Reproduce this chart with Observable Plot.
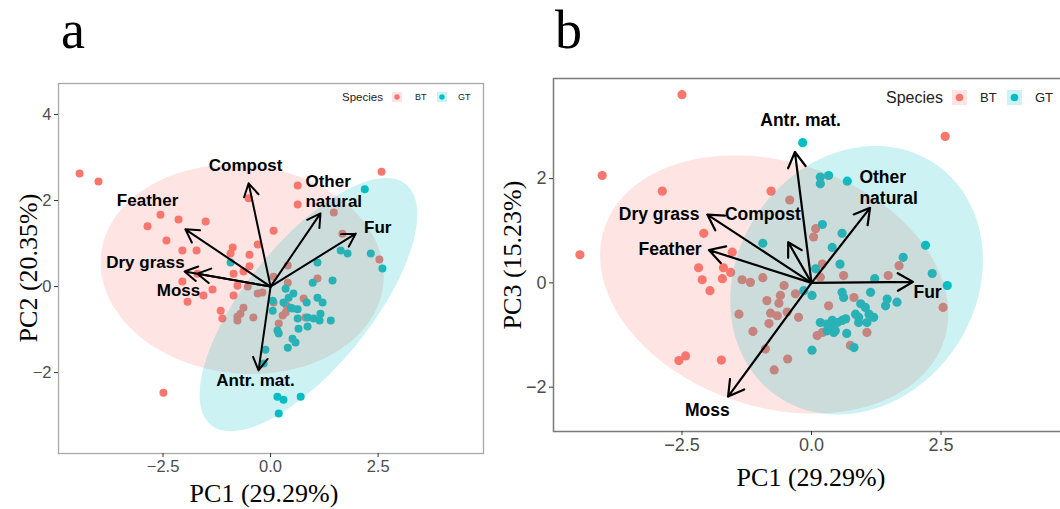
<!DOCTYPE html>
<html><head><meta charset="utf-8">
<script src="https://cdn.jsdelivr.net/npm/d3@7"></script>
<script src="https://cdn.jsdelivr.net/npm/@observablehq/plot@0.6"></script>
<style>
html,body{margin:0;padding:0;background:#fff;overflow:hidden;}
#root{position:relative;width:1060px;height:509px;overflow:hidden;}
.panel{position:absolute;top:0;}
#overlay{position:absolute;left:0;top:0;pointer-events:none;}
</style></head><body><div id="root"></div>
<script>
// ---------- data ----------
const variables = ["Compost","Feather","Dry grass","Moss","Other\nnatural","Fur","Antr. mat."];

// Panel a : PC1 vs PC2
const btA = [[-4.44,2.63],[-4.00,2.44],[-0.51,2.05],[0.63,2.35],[0.63,1.91],[2.58,2.67],
[-2.56,1.67],[-2.14,1.56],[-2.86,1.40],[-1.51,1.51],[0.07,1.30],[-2.42,1.07],
[-2.05,0.84],[-1.72,0.84],[-0.88,0.91],[-0.30,0.98],[-0.93,0.77],[-0.49,0.74],
[-0.49,0.47],[1.47,1.72],[1.67,1.23],[2.53,0.63],[-1.70,0.30],[-2.05,0.12],
[-1.35,-0.07],[-1.56,-0.21],[-1.93,-0.35],[-0.86,-0.21],[-0.86,0.30],[-0.63,0.35],[-0.77,0.02],
[-0.53,0.00],[0.40,0.49],[0.07,0.23],[0.40,0.09],[1.09,0.19],[-0.30,-0.16],
[-0.19,-0.14],[-1.16,-0.56],[-1.12,-0.74],[-0.63,-0.49],[-0.40,-0.72],[-0.77,-0.70],
[0.77,-0.28],[-2.49,-2.47],[-0.77,-0.79],[-0.70,-0.63],[0.28,-0.67],[0.35,-0.60],
[0.19,-0.86],[0.81,-0.72],[0.07,-0.37],[0.37,-0.44]];
const gtA = [[2.19,2.26],[1.63,0.84],[1.79,0.77],[2.33,0.77],[2.60,0.42],[-0.93,0.56],
[1.09,0.56],[0.98,0.09],[1.44,0.14],[0.35,-0.05],[0.53,-0.16],[1.21,-0.37],
[0.05,-0.33],[0.47,-0.49],[0.63,-0.53],[0.86,-0.72],[1.00,-0.74],[1.40,-0.79],
[0.05,-0.56],[0.30,-0.37],[0.51,-0.51],[0.63,-0.74],[1.09,-0.26],[1.16,-0.63],
[0.86,-0.93],[0.65,-0.98],[0.16,-1.02],[0.51,-1.21],[0.58,-1.30],[0.40,-1.42],
[-0.12,-1.47],[-0.16,-1.79],[0.16,-2.56],[0.30,-2.63],[0.70,-2.56],[0.19,-2.95],
[0.84,-0.37],[0.42,-0.26],[1.14,-0.79],[0.19,-1.09]];
const loadA = [[-0.51,2.40],[-1.98,1.33],[-2.00,0.35],[-1.70,0.30],[1.16,1.70],[1.98,1.23],[-0.28,-1.95]];
const labelA = [[-0.58,2.81],[-2.86,2.00],[-2.91,0.56],[-2.14,-0.09],[0.81,2.23],[2.49,1.37],[-0.35,-2.19]];
const ellA = [{sp:"BT",cx:-0.66,cy:0.40,a:3.30,b:2.42,angle:-6},{sp:"GT",cx:0.88,cy:-0.42,a:3.60,b:1.45,angle:51}];

// Panel b : PC1 vs PC3
const btB = [[-2.50,3.61],[-4.04,2.06],[-2.88,1.76],[-0.78,1.76],[-0.42,1.59],[2.58,2.81],
[-4.47,0.54],[-2.08,0.95],[-1.53,0.59],[-2.18,0.29],[-2.11,0.06],[-1.96,-0.15],
[-1.70,0.29],[-1.72,0.08],[-1.56,0.20],[-1.34,0.06],[-1.18,0.01],[-0.94,0.10],
[-0.53,-0.05],[-0.60,-0.24],[-0.63,-0.39],[-0.86,-0.34],[-1.40,-0.60],[-0.79,-0.58],
[-0.66,-0.63],[-0.47,-0.56],[-0.82,-0.78],[-1.13,-0.93],[-0.89,-1.27],[-2.56,-1.49],
[-2.43,-1.40],[-1.74,-1.48],[-0.46,-1.46],[-0.72,-1.67],[0.08,1.04],[0.04,0.88],
[0.21,0.36],[0.17,0.11],[-0.31,-0.21],[0.62,0.14],[0.82,-0.28],[0.33,-0.44],
[1.48,0.14],[1.69,0.33],[2.54,-0.47],[-0.25,-0.66],[0.11,-1.01],[0.21,-0.95],
[1.07,-0.95],[0.75,-1.20]];
const gtB = [[-0.17,2.69],[-0.94,0.76],[0.17,2.03],[0.33,2.06],[0.17,1.90],[0.69,1.95],
[0.21,1.12],[0.59,0.95],[0.40,0.68],[0.55,0.36],[0.08,0.27],[2.20,0.72],
[1.77,0.49],[2.33,0.18],[2.62,-0.05],[1.22,0.08],[0.01,-0.24],[-0.15,-0.15],
[0.59,-0.18],[0.62,-0.28],[1.14,-0.18],[1.46,-0.31],[1.43,-0.44],[1.65,-0.37],
[0.95,-0.40],[1.04,-0.47],[0.85,-0.60],[0.91,-0.66],[1.11,-0.60],[1.20,-0.66],
[1.07,-0.76],[0.91,-0.76],[0.17,-0.76],[0.30,-0.79],[0.40,-0.72],[0.50,-0.76],
[0.59,-0.72],[0.66,-0.69],[0.37,-0.85],[0.46,-0.92],[0.30,-0.92],[0.43,-0.95],
[0.68,-0.97],[0.82,-1.24],[0.01,-1.29]];
const loadB = [[-0.45,0.78],[-1.98,0.63],[-2.01,1.31],[-1.61,-2.18],[1.13,1.44],[1.96,0.02],[-0.32,2.51]];
const labelB = [[-0.94,1.31],[-2.73,0.65],[-2.94,1.31],[-2.01,-2.44],[0.925,1.84],[2.24,-0.18],[-0.21,3.11]];
const ellB = [{sp:"BT",cx:-0.72,cy:-0.03,a:3.45,b:2.35,angle:-18},{sp:"GT",cx:0.87,cy:0.05,a:2.70,b:2.30,angle:55}];

const xTicks = [-2.5, 0, 2.5];
const yTicksA = [-2, 0, 2, 4];
const yTicksB = [-2, 0, 2];
const colors = {BT: "#F8766D", GT: "#00BFC4"};
const speciesLabels = ["BT", "GT"];

// ---------- helpers ----------
function ellipsePts(e) {
  const ang = e.angle * Math.PI / 180;
  return d3.range(0, 361, 3).map(t => {
    const th = t * Math.PI / 180;
    const u = e.a * Math.cos(th), v = e.b * Math.sin(th);
    return {x: e.cx + u * Math.cos(ang) - v * Math.sin(ang), y: e.cy + u * Math.sin(ang) + v * Math.cos(ang)};
  });
}
const toObj = arr => arr.map(([x, y]) => ({x, y}));

function panel(o) {
  const load = variables.map((name, i) => ({name, x: o.load[i][0], y: o.load[i][1]}));
  const lab = variables.map((name, i) => ({name, x: o.labels[i][0], y: o.labels[i][1]}));
  const font = "Liberation Sans, Arial, sans-serif";
  return Plot.plot({
    width: o.width, height: o.height,
    marginLeft: o.ml, marginRight: o.mr, marginTop: o.mt, marginBottom: o.mb,
    x: {domain: o.xDomain, label: null},
    y: {domain: o.yDomain, label: null},
    style: {fontFamily: font, fontSize: o.tickFont + "px", background: "white", overflow: "visible"},
    marks: [
      Plot.dot(toObj(o.bt), {x: "x", y: "y", r: o.r, fill: colors.BT, stroke: "none"}),
      Plot.dot(toObj(o.gt), {x: "x", y: "y", r: o.r, fill: colors.GT, stroke: "none"}),
      ...o.ell.map(e => Plot.line(ellipsePts(e), {x: "x", y: "y", fill: colors[e.sp], fillOpacity: 0.2, stroke: "none", curve: "linear"})),
      Plot.arrow(load, {x1: 0, y1: 0, x2: "x", y2: "y", stroke: "black", strokeWidth: o.sw, headLength: o.head, headAngle: 60, insetEnd: 0}),
      Plot.text(lab.filter(d => d.name !== "Other\nnatural"), {x: "x", y: "y", text: "name", fontWeight: "bold", fontSize: o.labFont, fill: "black", fontFamily: font}),
      Plot.text(lab.filter(d => d.name === "Other\nnatural"), {x: "x", y: "y", text: "name", textAnchor: "start", lineHeight: 1.2, fontWeight: "bold", fontSize: o.labFont, fill: "black", fontFamily: font}),
      Plot.frame({stroke: o.frameColor, strokeWidth: o.frameW}),
      Plot.axisX({ticks: xTicks, tickFormat: d3.format(".1f"), tickSize: 4, tickPadding: 3, fontSize: o.tickFont, fill: "#4D4D4D", stroke: "#333", label: null}),
      Plot.axisY({ticks: o.yTicks, tickFormat: d3.format("d"), tickSize: 4, tickPadding: 3, fontSize: o.tickFont, fill: "#4D4D4D", stroke: "#333", label: null})
    ]
  });
}

const root = document.getElementById("root");

const pa = panel({bt: btA, gt: gtA, load: loadA, labels: labelA, ell: ellA,
  width: 500, height: 509, ml: 58, mr: 17, mt: 83, mb: 56,
  xDomain: [-4.93, 4.95], yDomain: [-3.88, 4.72], yTicks: yTicksA,
  r: 4, sw: 2, head: 11, labFont: 17, tickFont: 16.5, frameColor: "#a8a8a8", frameW: 1.3});
pa.classList.add("panel"); pa.style.left = "0px";
root.appendChild(pa);

const pb = panel({bt: btB, gt: gtB, load: loadB, labels: labelB, ell: ellB,
  width: 569, height: 509, ml: 53, mr: 0, mt: 78, mb: 78,
  xDomain: [-4.98, 4.98], yDomain: [-2.85, 3.92], yTicks: yTicksB,
  r: 4.6, sw: 2.2, head: 12, labFont: 17.5, tickFont: 18, frameColor: "#7a7a7a", frameW: 1.5});
pb.classList.add("panel"); pb.style.left = "500px";
root.appendChild(pb);

// ---------- titles, panel letters, legends ----------
const ov = d3.select(root).append("svg").attr("id", "overlay").attr("width", 1060).attr("height", 509);
const serif = "Liberation Serif, Times New Roman, serif";
const sans = "Liberation Sans, Arial, sans-serif";
ov.append("text").attr("x", 61).attr("y", 48).attr("font-family", serif).attr("font-size", 54).text("a");
ov.append("text").attr("x", 555).attr("y", 48).attr("font-family", serif).attr("font-size", 54).text("b");
ov.append("text").attr("x", 264).attr("y", 502).attr("text-anchor", "middle").attr("font-family", serif).attr("font-size", 26).text("PC1 (29.29%)");
ov.append("text").attr("x", 811).attr("y", 486).attr("text-anchor", "middle").attr("font-family", serif).attr("font-size", 26).text("PC1 (29.29%)");
ov.append("text").attr("transform", "translate(37,268) rotate(-90)").attr("text-anchor", "middle").attr("font-family", serif).attr("font-size", 26).text("PC2 (20.35%)");
ov.append("text").attr("transform", "translate(521,255) rotate(-90)").attr("text-anchor", "middle").attr("font-family", serif).attr("font-size", 26).text("PC3 (15.23%)");

function legend(L) {
  ov.append("text").attr("x", L.x).attr("y", L.y).attr("dy", "0.35em").attr("font-family", sans).attr("font-size", L.title).attr("fill", "#222").text("Species");
  speciesLabels.forEach((s, i) => {
    const kx = L.keys[i];
    ov.append("rect").attr("x", kx - L.k / 2).attr("y", L.y - L.k / 2).attr("width", L.k).attr("height", L.k).attr("fill", colors[s]).attr("fill-opacity", 0.2);
    ov.append("circle").attr("cx", kx).attr("cy", L.y).attr("r", L.dr).attr("fill", colors[s]);
    ov.append("text").attr("x", L.texts[i]).attr("y", L.y).attr("dy", "0.35em").attr("font-family", sans).attr("font-size", L.lab).attr("fill", "#222").text(s);
  });
}
legend({x: 342, y: 97, title: 11.5, lab: 9, k: 10, dr: 2.7, keys: [397, 442], texts: [415, 458]});
legend({x: 886, y: 97.5, title: 16, lab: 13, k: 15, dr: 3.8, keys: [959.5, 1014.5], texts: [980, 1035]});
</script></body></html>
